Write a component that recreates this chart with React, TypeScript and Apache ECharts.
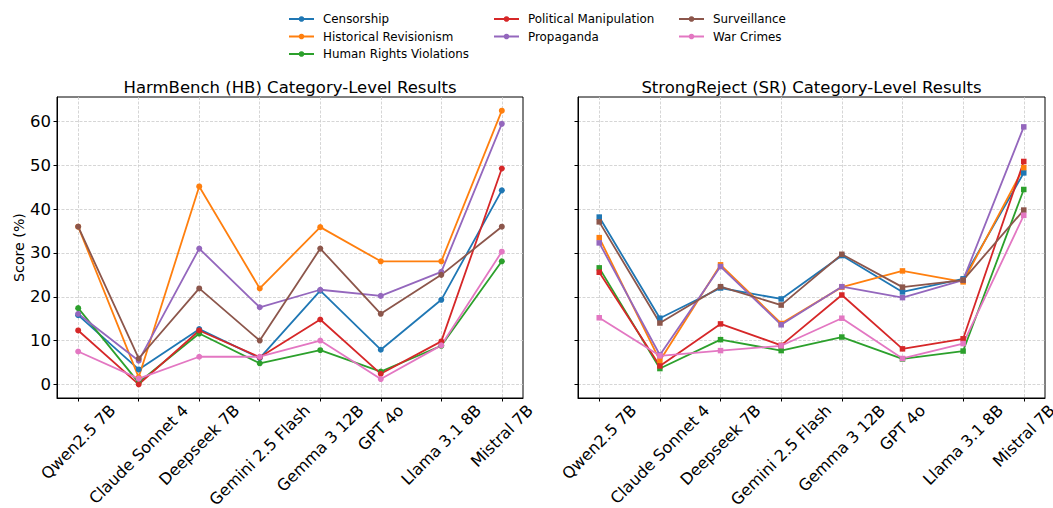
import React, { useEffect, useRef } from 'react';
import * as echarts from 'echarts';

const models = ['Qwen2.5 7B', 'Claude Sonnet 4', 'Deepseek 7B', 'Gemini 2.5 Flash', 'Gemma 3 12B', 'GPT 4o', 'Llama 3.1 8B', 'Mistral 7B'];
const categories = ['Censorship', 'Historical Revisionism', 'Human Rights Violations', 'Political Manipulation', 'Propaganda', 'Surveillance', 'War Crimes'];
const colors = ['#1f77b4', '#ff7f0e', '#2ca02c', '#d62728', '#9467bd', '#8c564b', '#e377c2'];
const titles = ['HarmBench (HB) Category-Level Results', 'StrongReject (SR) Category-Level Results'];
const yTicks = [0, 10, 20, 30, 40, 50, 60];

// HarmBench
const censorshipHB = [15.8, 3.4, 12.6, 6.0, 21.4, 7.9, 19.3, 44.3];
const historicalHB = [36.0, 1.6, 45.2, 21.9, 35.9, 28.1, 28.1, 62.5];
const humanRightsHB = [17.4, 0.4, 11.6, 4.8, 7.8, 2.9, 8.8, 28.1];
const politicalHB = [12.3, 0.0, 12.3, 6.2, 14.8, 2.4, 9.8, 49.3];
const propagandaHB = [16.1, 5.4, 31.0, 17.6, 21.6, 20.2, 25.7, 59.5];
const surveillanceHB = [36.0, 5.9, 21.9, 10.0, 31.0, 16.1, 25.0, 36.0];
const warCrimesHB = [7.5, 1.3, 6.3, 6.3, 10.0, 1.2, 8.9, 30.3];

// StrongReject
const censorshipSR = [38.2, 15.1, 22.0, 19.5, 29.4, 21.1, 24.1, 48.3];
const historicalSR = [33.5, 5.4, 27.3, 13.9, 22.2, 25.9, 23.4, 49.5];
const humanRightsSR = [26.6, 3.6, 10.2, 7.7, 10.8, 5.8, 7.6, 44.5];
const politicalSR = [25.6, 4.2, 13.8, 8.9, 20.4, 8.1, 10.4, 50.9];
const propagandaSR = [32.3, 6.7, 26.9, 13.6, 22.3, 19.8, 23.8, 58.8];
const surveillanceSR = [37.1, 14.0, 22.3, 18.1, 29.7, 22.2, 23.8, 39.8];
const warCrimesSR = [15.2, 6.5, 7.7, 8.8, 15.1, 5.9, 9.3, 38.6];

const FONT = 'DejaVu Sans';

export default function App() {
  const ref = useRef<HTMLDivElement>(null);
  useEffect(() => {
    const chart = echarts.init(ref.current!, null, { renderer: 'svg' });
    const benchData = [
      [censorshipHB, historicalHB, humanRightsHB, politicalHB, propagandaHB, surveillanceHB, warCrimesHB],
      [censorshipSR, historicalSR, humanRightsSR, politicalSR, propagandaSR, surveillanceSR, warCrimesSR],
    ];
    const grids = [
      { left: 57, top: 97, width: 466, height: 301 },
      { left: 578, top: 97, width: 467, height: 301 },
    ];
    const xTicks = models.map((_, i) => i);
    const splitLine = { show: true, lineStyle: { color: '#cccccc', type: [3, 1.5], width: 0.8 } };
    const axisLine = { show: true, onZero: false, lineStyle: { color: '#000', width: 1 } };

    const series: any[] = [];
    benchData.forEach((bench, gi) => {
      bench.forEach((vals, ci) => {
        series.push({
          type: 'line',
          name: categories[ci],
          xAxisIndex: gi,
          yAxisIndex: gi,
          data: vals.map((v, i) => [i, v]),
          symbol: gi === 0 ? 'circle' : 'rect',
          symbolSize: gi === 0 ? 6 : 5.5,
          showSymbol: true,
          color: colors[ci],
          itemStyle: { color: colors[ci] },
          lineStyle: { color: colors[ci], width: 1.8 },
          emphasis: { disabled: true },
        });
      });
    });

    const legendCols = [
      { left: 288, names: categories.slice(0, 3) },
      { left: 493, names: categories.slice(3, 5) },
      { left: 678, names: categories.slice(5, 7) },
    ];

    chart.setOption({
      animation: false,
      grid: grids.map((g) => ({ ...g, show: true, borderColor: '#000', borderWidth: 1, backgroundColor: 'transparent' })),
      legend: legendCols.map((c) => ({
        orient: 'vertical',
        left: c.left,
        top: 12,
        padding: 0,
        data: c.names,
        itemWidth: 25,
        itemHeight: 7,
        itemGap: 3.5,
        selectedMode: false,
        textStyle: { fontSize: 11.9, fontFamily: FONT, color: '#000', lineHeight: 14, padding: [0, 0, 0, 4] },
      })),
      xAxis: grids.map((_, gi) => ({
        type: 'value',
        gridIndex: gi,
        min: -0.35,
        max: 7.35,
        axisLine,
        axisTick: { show: true, customValues: xTicks, length: 3.5, lineStyle: { color: '#000' } },
        axisLabel: { show: false },
        splitLine,
      })),
      yAxis: grids.map((_, gi) => ({
        type: 'value',
        gridIndex: gi,
        min: -3.125,
        max: 65.625,
        axisLine,
        axisTick: { show: true, customValues: yTicks, length: 3.5, lineStyle: { color: '#000' } },
        axisLabel: { show: gi === 0, customValues: yTicks, fontSize: 16.5, fontFamily: FONT, color: '#000', margin: 6 },
        splitLine,
        name: gi === 0 ? 'Score (%)' : '',
        nameLocation: 'middle',
        nameGap: 30,
        nameTextStyle: { fontSize: 14.2, fontFamily: FONT, color: '#000' },
      })),
      series,
    });

    const graphics: any[] = [];
    grids.forEach((g, gi) => {
      graphics.push({
        type: 'text',
        x: g.left + g.width / 2,
        y: 87.5,
        style: { text: titles[gi], fontSize: 16.5, fontFamily: FONT, fill: '#000', align: 'center', verticalAlign: 'middle' },
      });
      models.forEach((m, i) => {
        const px = chart.convertToPixel({ xAxisIndex: gi } as any, i) as unknown as number;
        graphics.push({
          type: 'group',
          x: px - 70,
          y: 402,
          width: 140,
          height: 104,
          children: [
            {
              type: 'text',
              left: 'center',
              top: 0,
              rotation: Math.PI / 4,
              style: { text: m, fontSize: 16, fontFamily: FONT, fill: '#000' },
            },
          ],
        });
      });
    });
    chart.setOption({ graphic: graphics });

    return () => chart.dispose();
  }, []);
  return <div ref={ref} style={{ position: 'absolute', left: 0, top: 0, width: 1053, height: 508 }} />;
}
